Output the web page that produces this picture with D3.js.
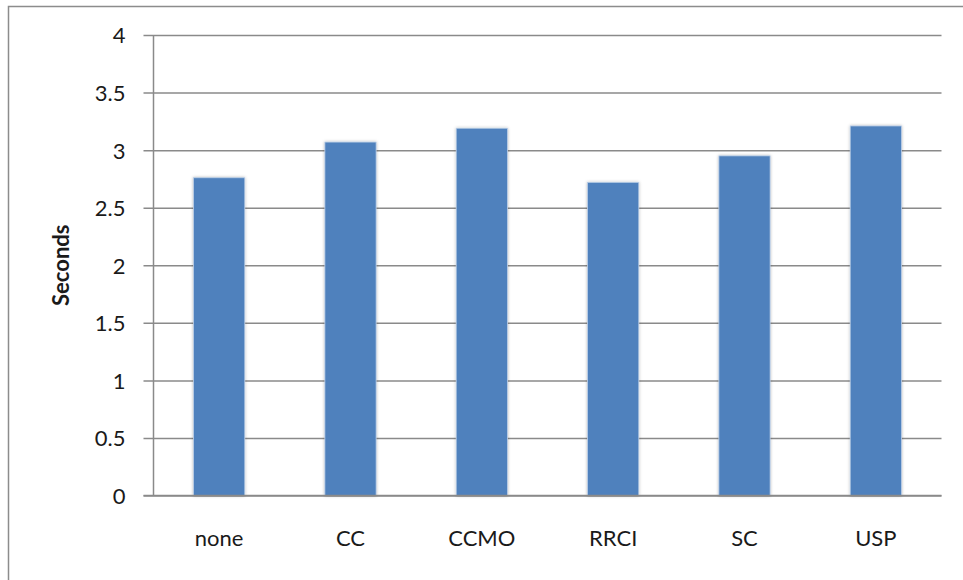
<!DOCTYPE html>
<html>
<head>
<meta charset="utf-8">
<script src="https://cdn.jsdelivr.net/npm/d3@7/dist/d3.min.js"></script>
<style>
  html, body { margin: 0; padding: 0; background: #fff; }
  svg { display: block; }
  text { font-family: Lato, "Open Sans", sans-serif; fill: #1a1a1a; }
</style>
</head>
<body>
<svg id="chart" width="963" height="580"></svg>
<script>
// Run time per configuration, in seconds
const categories = ["none", "CC", "CCMO", "RRCI", "SC", "USP"];
const seconds = [2.76, 3.07, 3.19, 2.72, 2.95, 3.21];
const yTicks = [0, 0.5, 1, 1.5, 2, 2.5, 3, 3.5, 4];
const yLabel = "Seconds";

const W = 963, H = 580;
const plot = { left: 153.5, right: 941.5, top: 35, bottom: 495.5 };

const svg = d3.select("#chart");

// soft shadow around each bar
const defs = svg.append("defs");
const f = defs.append("filter").attr("id", "barShadow")
  .attr("x", "-20%").attr("y", "-5%").attr("width", "140%").attr("height", "110%");
f.append("feDropShadow").attr("dx", 0).attr("dy", 0).attr("stdDeviation", 1.6)
  .attr("flood-color", "#000").attr("flood-opacity", 0.28);

// chart area frame
svg.append("rect")
  .attr("x", 8.5).attr("y", 6.5).attr("width", W).attr("height", H)
  .attr("fill", "#fff").attr("stroke", "#8c8c8c").attr("stroke-width", 1.5);

const x = d3.scaleBand()
  .domain(categories)
  .range([plot.left, plot.right])
  .paddingInner(0.61)
  .paddingOuter(0.305);

const y = d3.scaleLinear().domain([0, 4]).range([plot.bottom, plot.top]);

// horizontal gridlines + ticks
const yAxis = d3.axisLeft(y)
  .tickValues(yTicks)
  .tickFormat(d => String(d))
  .tickSize(-(plot.right - plot.left));

const gy = svg.append("g")
  .attr("transform", `translate(${plot.left},0)`)
  .call(yAxis);
gy.select(".domain").remove();
gy.selectAll(".tick line")
  .attr("x1", -10)
  .attr("stroke", "#8a8a8a").attr("stroke-width", 1.5);
gy.selectAll(".tick text")
  .attr("x", -28)
  .attr("dy", "0.36em")
  .style("font-size", "22px")
  .style("font-family", "Lato, sans-serif")
  .attr("fill", "#1a1a1a");

// bars
svg.append("g").selectAll("rect")
  .data(categories)
  .join("rect")
  .attr("x", d => x(d))
  .attr("width", x.bandwidth())
  .attr("y", (d, i) => y(seconds[i]))
  .attr("height", (d, i) => y(0) - y(seconds[i]))
  .attr("fill", "#4f81bd")
  .attr("stroke", "#b9cde6")
  .attr("stroke-width", 0.8)
  .attr("filter", "url(#barShadow)");

// vertical axis line
svg.append("line")
  .attr("x1", plot.left).attr("x2", plot.left)
  .attr("y1", plot.top).attr("y2", plot.bottom)
  .attr("stroke", "#8a8a8a").attr("stroke-width", 1.5);

// category axis
const xAxis = d3.axisBottom(x).tickSize(0).tickPadding(35);
const gx = svg.append("g")
  .attr("transform", `translate(0,${plot.bottom})`)
  .call(xAxis);
gx.select(".domain")
  .attr("d", `M${plot.left - 10},0H${plot.right}`)
  .attr("stroke", "#8a8a8a").attr("stroke-width", 1.5);
gx.selectAll(".tick text")
  .style("font-size", "22px")
  .style("font-family", "Lato, sans-serif")
  .attr("fill", "#1a1a1a");

// axis title
svg.append("text")
  .attr("transform", `translate(69,${(plot.top + plot.bottom) / 2}) rotate(-90)`)
  .attr("text-anchor", "middle")
  .style("font-size", "22px")
  .style("font-weight", "bold")
  .text(yLabel);
</script>
</body>
</html>
